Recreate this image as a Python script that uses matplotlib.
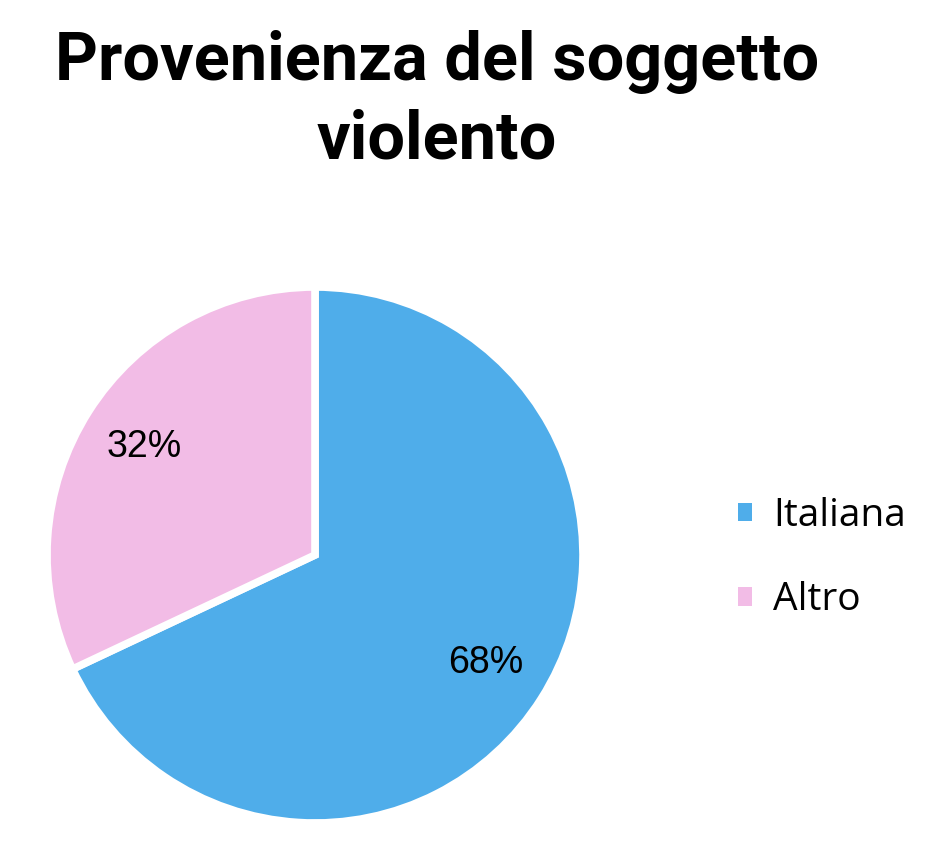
import matplotlib
matplotlib.use("Agg")
import matplotlib.pyplot as plt
from matplotlib.patches import Patch

categories = ["Italiana", "Altro"]
values = [68, 32]
colors = ["#4FADEA", "#F2BCE6"]
title = "Provenienza del soggetto\nviolento"

W, H = 934, 842
fig = plt.figure(figsize=(W / 100, H / 100), dpi=100)
fig.patch.set_facecolor("white")

cx, cy, r = 315, 555, 268
ax = fig.add_axes([(cx - r) / W, (H - cy - r) / H, 2 * r / W, 2 * r / H])
wedges, texts, autotexts = ax.pie(
    values, colors=colors, startangle=90, counterclock=False,
    autopct=lambda p: f"{p:.0f}%", pctdistance=0.755,
    wedgeprops=dict(edgecolor="white", linewidth=5.5),
    textprops=dict(fontsize=27, family="Liberation Sans", color="black"),
)
ax.set_aspect("equal")
ax.set_xlim(-1, 1)
ax.set_ylim(-1, 1)
ax.axis("off")

fig.text(437 / W, 1 - 101 / H, title, ha="center", va="center",
         fontsize=48, fontweight="bold", family="Roboto", linespacing=1.3)

handles = [Patch(facecolor=c, edgecolor="none") for c in colors]
fig.legend(handles, categories, loc="center left", bbox_to_anchor=(703 / W, 1 - 558 / H),
           frameon=False, prop=dict(family="Open Sans", size=28),
           handlelength=0.35, handleheight=0.35, handletextpad=0.55, labelspacing=1.2)

fig.savefig("out.png", dpi=100, facecolor="white")
